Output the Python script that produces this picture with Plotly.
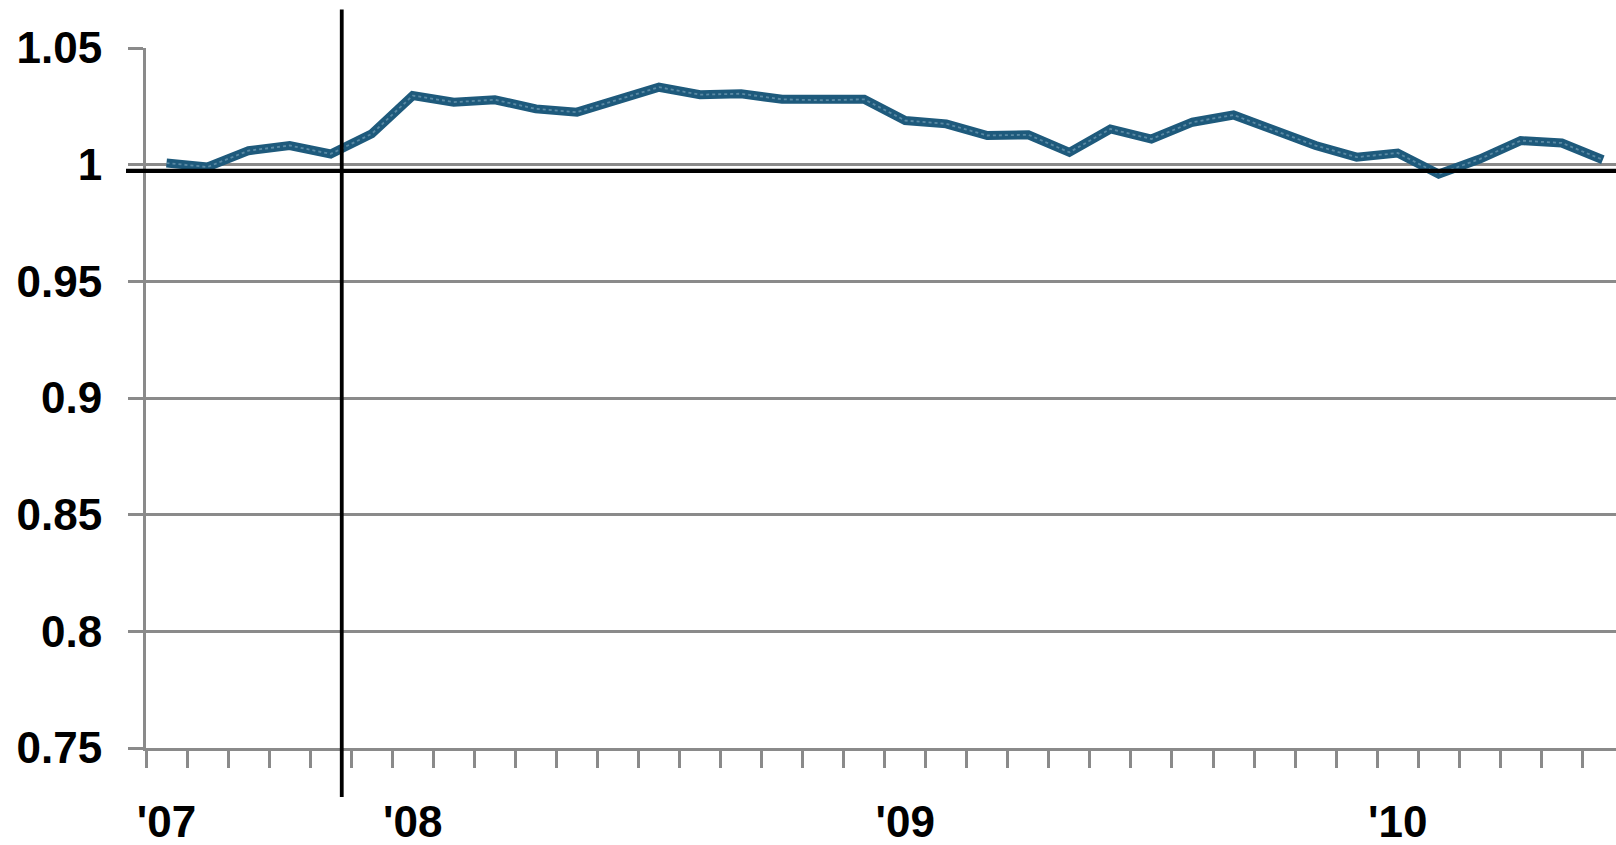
import plotly.graph_objects as go

months = ["Jul", "Aug", "Sep", "Oct", "Nov", "Dec", "Jan", "Feb", "Mar", "Apr", "May", "Jun"]
categories = []
for k in range(36):
    yr = 2007 + (6 + k) // 12
    categories.append(f"{months[k % 12]} {yr}")

values = [1.0007, 0.9990, 1.0060, 1.0082, 1.0046, 1.0132, 1.0296, 1.0268, 1.0278, 1.0239,
          1.0225, 1.0280, 1.0332, 1.0300, 1.0304, 1.0280, 1.0276, 1.0280, 1.0189, 1.0175,
          1.0125, 1.0128, 1.0053, 1.0153, 1.0110, 1.0182, 1.0213, 1.0146, 1.0082, 1.0032,
          1.0050, 0.9960, 1.0024, 1.0103, 1.0093, 1.0021]

year_cats = ["Jul 2007", "Jan 2008", "Jan 2009", "Jan 2010"]
year_text = ["'07", "'08", "'09", "'10"]

y_tickvals = [0.75, 0.8, 0.85, 0.9, 0.95, 1.0, 1.05]
y_ticktext = ["0.75", "0.8", "0.85", "0.9", "0.95", "1", "1.05"]

recession_start_pos = 4.27
baseline_level = 0.9973

# numeric positions of the categories (index on the axis)
xpos = list(range(len(categories)))
boundaries = [i - 0.5 for i in range(len(categories) + 1)]
year_pos = [categories.index(c) for c in year_cats]

grid = "#8a8a8a"
xrange = [-0.5, 35.32]
fig = go.Figure()
fig.add_trace(go.Scatter(x=xpos, y=values, mode="lines", text=categories,
                         line=dict(color="#1e5a7c", width=9), hoverinfo="text+y"))
fig.add_trace(go.Scatter(x=xpos, y=values, mode="lines",
                         line=dict(color="rgba(150,185,205,0.5)", width=1.8, dash="dot"),
                         hoverinfo="skip"))
fig.add_trace(go.Scatter(x=xpos, y=values, xaxis="x2", mode="lines",
                         line=dict(width=0), opacity=0, hoverinfo="skip"))

fig.add_shape(type="line", xref="x", yref="paper", x0=recession_start_pos, x1=recession_start_pos,
              y0=-0.070, y1=1.055, line=dict(color="black", width=3.8), layer="above")
fig.add_shape(type="line", xref="paper", yref="y", x0=-0.0136, x1=1.0,
              y0=baseline_level, y1=baseline_level, line=dict(color="black", width=4.3), layer="above")

fig.update_layout(
    width=1616, height=845,
    margin=dict(l=146, r=0, t=48, b=97, autoexpand=False),
    paper_bgcolor="white", plot_bgcolor="white",
    showlegend=False,
    font=dict(family="Liberation Sans, Arial", color="black"),
    xaxis=dict(
        range=xrange, tickmode="array", tickvals=boundaries,
        ticks="outside", ticklen=17, tickwidth=3, tickcolor=grid,
        showticklabels=False, automargin=False,
        showline=True, linecolor=grid, linewidth=3, showgrid=False, zeroline=False,
    ),
    xaxis2=dict(
        range=xrange, overlaying="x", anchor="y", side="bottom", automargin=False,
        tickmode="array", tickvals=year_pos, ticktext=year_text, tickangle=0,
        ticks="", showline=False, showgrid=False, zeroline=False,
        tickfont=dict(size=44, weight="bold", color="black"),
        ticklabelstandoff=44,
    ),
    yaxis=dict(
        range=[0.75, 1.05], tickmode="array", tickvals=y_tickvals, ticktext=y_ticktext,
        ticks="outside", ticklen=15, tickwidth=3, tickcolor=grid, automargin=False,
        showline=True, linecolor=grid, linewidth=3,
        showgrid=True, gridcolor=grid, gridwidth=3, zeroline=False,
        tickfont=dict(size=44, weight="bold", color="black"),
        ticklabelstandoff=17,
    ),
)
fig.write_html("out.html", config={"displayModeBar": False},
               post_script="document.body.style.margin='0';document.body.style.overflow='hidden';")
